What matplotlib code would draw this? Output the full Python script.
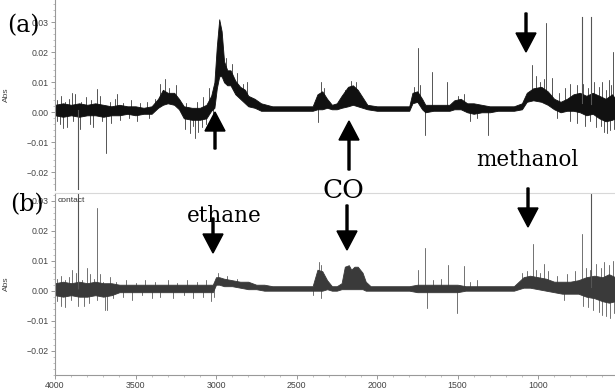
import matplotlib
matplotlib.use("Agg")
from matplotlib import pyplot as plt
from matplotlib.patches import FancyArrow
from matplotlib.transforms import IdentityTransform
from matplotlib.ticker import MultipleLocator
import numpy as np

# dense core of the noisy spectra: wavenumber, upper edge, lower edge (Abs x 1e-3)
wn_a = [4000, 3950, 3900, 3850, 3800, 3750, 3700, 3650, 3600, 3550, 3500, 3450, 3400,
        3360, 3330, 3300, 3260, 3230, 3200, 3150, 3100, 3060, 3030, 3010, 2995, 2980,
        2965, 2950, 2930, 2910, 2880, 2850, 2820, 2800, 2760, 2720, 2650, 2600, 2550,
        2500, 2450, 2400, 2370, 2340, 2310, 2280, 2250, 2220, 2180, 2150, 2120, 2090,
        2060, 2000, 1950, 1900, 1850, 1800, 1780, 1750, 1720, 1700, 1650, 1600, 1550,
        1520, 1480, 1440, 1400, 1350, 1300, 1250, 1200, 1150, 1100, 1070, 1030, 980,
        940, 900, 860, 820, 780, 740, 700, 660, 620, 580, 540, 520]
hi_a = [2.5, 3.0, 2.5, 3.0, 2.5, 3.0, 2.5, 2.0, 2.5, 2.0, 2.0, 1.5, 2.0,
        4.5, 7.5, 6.5, 6.5, 4.5, 2.0, 1.5, 1.5, 2.5, 5.5, 10.0, 22.0, 31.0,
        27.0, 17.0, 14.0, 14.0, 10.5, 8.5, 7.5, 5.5, 4.5, 3.0, 2.0, 2.0, 2.0,
        2.0, 2.0, 2.0, 6.0, 7.0, 4.5, 2.5, 3.0, 5.5, 8.5, 9.0, 7.5, 5.0,
        2.5, 2.0, 2.0, 2.0, 2.0, 2.0, 6.5, 7.0, 4.5, 2.5, 2.5, 2.5, 2.5,
        4.0, 4.5, 3.0, 3.0, 2.5, 2.0, 2.0, 2.0, 2.0, 3.0, 6.5, 8.0, 8.5,
        7.0, 4.5, 3.5, 4.5, 6.0, 6.5, 5.5, 6.5, 5.5, 4.5, 6.0, 4.5]
lo_a = [-1.0, -1.5, -1.0, -1.5, -1.0, -1.0, -1.5, -1.0, -1.0, -0.5, -1.0, -0.5, -0.5,
        1.5, 2.5, 3.0, 2.5, 1.0, -2.0, -2.5, -2.5, -2.0, 0.5, 1.5, 8.0, 12.0,
        12.0, 10.0, 9.0, 9.0, 6.0, 4.5, 3.0, 2.0, 1.5, 0.5, 0.5, 0.5, 0.5,
        0.5, 0.5, 0.5, 1.0, 1.0, 1.5, 1.0, 1.0, 1.5, 2.0, 2.5, 2.0, 1.5,
        1.0, 0.5, 0.5, 0.5, 0.5, 0.5, 3.0, 3.5, 1.0, 0.0, 0.5, 0.5, 0.5,
        1.0, 1.0, 0.0, -0.5, 0.0, 0.0, 0.5, 0.5, 0.5, 1.0, 3.5, 4.0, 3.5,
        2.5, 1.0, 0.0, 0.5, 0.5, 0.0, -1.0, -0.5, -2.0, -3.0, -2.5, -2.0]

wn_b = [4000, 3950, 3900, 3850, 3800, 3750, 3700, 3650, 3600, 3550, 3500, 3450, 3400,
        3350, 3300, 3250, 3200, 3150, 3100, 3050, 3020, 3000, 2980, 2950, 2900, 2850,
        2800, 2750, 2700, 2650, 2600, 2550, 2500, 2450, 2400, 2370, 2340, 2310, 2280,
        2250, 2220, 2200, 2175, 2160, 2140, 2120, 2090, 2070, 2040, 2000, 1950, 1900,
        1850, 1800, 1750, 1700, 1650, 1600, 1550, 1500, 1450, 1400, 1350, 1300, 1250,
        1200, 1150, 1120, 1090, 1050, 1000, 950, 900, 850, 800, 750, 700, 650, 600,
        560, 520]
hi_b = [2.5, 3.0, 2.5, 3.0, 2.5, 3.0, 2.5, 2.5, 2.0, 2.0, 2.0, 2.0, 2.0,
        2.0, 2.0, 2.0, 2.0, 2.0, 2.0, 2.0, 2.0, 4.5, 4.5, 4.0, 3.5, 3.0,
        3.0, 2.0, 2.0, 1.5, 1.5, 1.5, 1.5, 1.5, 1.5, 7.0, 6.5, 3.5, 1.5,
        1.5, 2.5, 8.0, 8.5, 7.0, 8.0, 8.0, 6.0, 3.0, 1.5, 1.5, 1.5, 1.5,
        1.5, 1.5, 2.0, 2.0, 2.0, 2.0, 2.0, 2.0, 1.5, 1.5, 1.5, 1.5, 1.5,
        1.5, 1.5, 3.0, 4.5, 5.0, 4.5, 4.0, 3.0, 3.0, 3.0, 3.5, 4.5, 5.0, 4.5,
        5.5, 4.5]
lo_b = [-1.5, -2.0, -1.5, -2.0, -2.0, -1.5, -2.0, -1.5, -0.5, -0.5, -0.5, -0.5, -0.5,
        -0.5, -0.5, -0.5, -0.5, -0.5, -0.5, -0.5, -0.5, 2.0, 2.0, 1.5, 1.5, 1.0,
        0.5, 0.5, 0.0, 0.0, 0.0, 0.0, 0.0, 0.0, 0.0, 0.0, 0.0, 0.5, 0.0,
        0.0, 0.5, 0.5, 0.5, 0.5, 0.5, 0.5, 0.5, 0.0, 0.0, 0.0, 0.0, 0.0,
        0.0, 0.0, -0.5, -0.5, -0.5, -0.5, -0.5, -0.5, 0.0, 0.0, 0.0, 0.0, 0.0,
        0.0, 0.0, 0.5, 1.0, 1.0, 0.5, 0.0, -0.5, -1.0, -1.0, -1.0, -2.0, -2.5, -3.5,
        -4.0, -3.5]

# narrow spikes and noise excursions: wavenumber, tip (Abs x 1e-3)
spk_a_wn = [3857, 3741, 3685, 3897, 3617, 3317, 3948, 3762, 3131, 2366, 1748, 1702,
            1661, 1568, 1309, 1036, 953, 916, 729, 671, 533,
            3985, 3960, 3935, 3915, 3875, 3840, 3810, 3775, 3720, 3660, 3630, 3580,
            3530, 3470, 3430, 3380, 3345, 3290, 3250, 3185, 3120, 3080, 3045,
            3990, 3970, 3925, 3890, 3845, 3785, 3710, 3650, 3595, 3540, 3490, 3415,
            3190, 3160, 3140, 3110, 3090, 3060, 3020, 2940, 2900, 2870, 2830, 2805,
            2350, 2330, 2200, 2160, 2130, 1770, 1735, 1500, 1460, 1420, 1380,
            1010, 990, 960, 870, 830, 800, 760, 720, 690, 650, 620, 600, 575, 560, 545,
            880, 800, 760, 710, 680, 640, 610, 590, 570, 550, 530]
spk_a_v = [-40, 7.7, -13.5, 6.4, 6.1, 11.1, -5.3, -4.9, -8.4, -3.2, 21.3, -7.6,
           13.6, 10.2, -7.6, 15.8, 29.8, 11.3, 31.8, 31.8, 20.0,
           4.0, 5.5, 3.5, 4.5, 6.0, 3.5, 5.0, 4.0, 5.5, 3.5, 4.5, 3.0,
           4.0, 3.0, 3.5, 4.5, 9.5, 8.0, 9.0, 3.0, 3.5, 5.0, 8.0,
           -3.0, -4.0, -5.0, -3.0, -5.5, -4.0, -3.0, -3.5, -2.5, -2.0, -3.0, -2.0,
           -5.5, -7.0, -4.5, -6.5, -5.0, -4.0, -2.5, 18.0, 16.0, 13.0, 9.5, 10.0,
           10.0, 8.0, 7.5, 10.5, 10.0, 8.5, 9.0, 5.5, 6.0, -3.0, -2.0,
           12.0, 10.0, 11.0, 6.5, 8.0, 9.5, 9.0, 9.5, 8.0, 10.0, 8.5, 10.0, 7.5, 10.8, 9.0,
           -2.0, -3.0, -3.5, -4.5, -3.0, -5.0, -4.5, -6.5, -7.0, -6.0, -5.5]
spk_b_wn = [3857, 3741, 3896, 3801, 3938, 3818, 3677, 1748, 1702, 1690, 1557, 1505,
            1460, 1034, 961, 729, 671,
            3990, 3965, 3940, 3915, 3870, 3830, 3780, 3760, 3720, 3700, 3660, 3620,
            3560, 3500, 3440, 3380, 3300, 3240, 3180, 3120, 3060, 2990, 2930, 2870,
            2360, 2345, 1650, 1600, 1420, 1380, 1100, 1070, 1010, 990, 940, 880, 820,
            770, 700, 680, 640, 610, 590, 560, 535,
            3985, 3960, 3900, 3860, 3790, 3740, 3690, 3640, 3580, 3520, 3460, 3400,
            3350, 3270, 3200, 3140, 3080, 3030, 3010, 2400, 2350, 840, 720, 690, 660,
            620, 600, 575, 550, 530]
spk_b_v = [40, 27.5, 6.9, 7.6, -5.3, -5.0, -6.4, 6.9, 14.1, -5.9, 8.5, -7.5,
           8.3, 15.4, 8.8, 19.0, 40,
           4.0, 5.0, 3.5, 4.5, 6.0, 3.5, 5.5, 4.0, 5.5, 3.0, 4.5, 3.0,
           3.5, 2.5, 3.5, 3.0, 3.5, 2.5, 3.5, 3.0, 3.5, 5.8, 5.0, 4.0,
           9.5, 8.5, 3.5, 4.0, 3.0, 3.5, 6.0, 6.5, 7.0, 6.0, 6.5, 5.0, 5.5,
           6.5, 7.5, 7.0, 9.0, 7.5, 9.5, 8.5, 10.0,
           -3.5, -5.0, -3.0, -5.0, -4.0, -3.0, -6.4, -2.5, -2.0, -3.0, -1.5, -2.5,
           -2.0, -2.5, -1.5, -2.5, -2.0, -3.5, -2.0, -1.5, -2.5, -3.0, -5.0, -5.5, -6.5,
           -7.0, -8.0, -8.5, -9.0, -7.5]

W, H = 615, 390
fig = plt.figure(figsize=(6.15, 3.9), dpi=100)
ax_a = fig.add_axes([55 / W, 1 - 190 / H, 560 / W, 190 / H])
ax_b = fig.add_axes([55 / W, 1 - 375 / H, 560 / W, 182 / H])

tick_font = dict(family="Liberation Sans", size=6.3, color="#444444")


def style(ax, ylim, bottom):
    ax.set_xlim(4000, 522)
    ax.set_ylim(*ylim)
    for s in ["top", "right"]:
        ax.spines[s].set_visible(False)
    ax.spines["left"].set_color("#999999")
    ax.spines["bottom"].set_color("#999999")
    ax.spines["bottom"].set_visible(bottom)
    ax.yaxis.set_minor_locator(MultipleLocator(0.002))
    ax.xaxis.set_minor_locator(MultipleLocator(100))
    ax.tick_params(axis="both", which="major", length=3, width=0.6, color="#888888", pad=1.5)
    ax.tick_params(axis="both", which="minor", length=1.5, width=0.5, color="#aaaaaa")
    if not bottom:
        ax.tick_params(axis="x", which="both", bottom=False, labelbottom=False)
    ax.set_yticks([0.03, 0.02, 0.01, 0.0, -0.01, -0.02])
    ax.set_yticklabels(["0.03", "0.02", "0.01", "0.00", "\u22120.01", "\u22120.02"], **tick_font)
    ax.set_ylabel("Abs", fontsize=6, family="Liberation Sans", color="#444444", labelpad=12)


style(ax_a, ((112.3 - 190) / 3000, 112.3 / 3000), False)
style(ax_b, ((290.7 - 375) / 3000, (290.7 - 193) / 3000), True)
ax_b.set_xticks([4000, 3500, 3000, 2500, 2000, 1500, 1000])
ax_b.set_xticklabels(["4000", "3500", "3000", "2500", "2000", "1500", "1000"], **tick_font)
ax_b.set_xlabel("Wavenumbers (cm\u22121)", fontsize=6, family="Liberation Sans",
                color="#444444", labelpad=1)
ax_b.spines["top"].set_visible(True)
ax_b.spines["top"].set_color("#d8d8d8")
ax_b.text(0.005, 0.96, "contact", transform=ax_b.transAxes, fontsize=6,
          family="Liberation Sans", color="#333333", va="center")

for ax, wn, hi, lo, swn, sv, col in [
        (ax_a, wn_a, hi_a, lo_a, spk_a_wn, spk_a_v, "#111111"),
        (ax_b, wn_b, hi_b, lo_b, spk_b_wn, spk_b_v, "#3a3a3a")]:
    hi = np.array(hi) / 1000
    lo = np.array(lo) / 1000
    ax.fill_between(wn, lo, hi, color=col, lw=0.6, edgecolor=col)
    base = (hi + lo) / 2
    for w, v in zip(swn, sv):
        b = np.interp(w, wn[::-1], base[::-1])
        big = abs(v) >= 30
        ax.plot([w, w], [b, v / 1000], color="#555555" if big else col,
                lw=0.8 if big else 0.5)

serif = "DejaVu Serif"
fig.text(23 / W, 1 - 26 / H, "(a)", family=serif, fontsize=17, ha="center", va="center")
fig.text(27 / W, 1 - 205 / H, "(b)", family=serif, fontsize=17, ha="center", va="center")
fig.text(224 / W, 1 - 222 / H, "ethane", family=serif, fontsize=15.5, ha="center", va="baseline")
fig.text(343 / W, 1 - 198 / H, "CO", family=serif, fontsize=19, ha="center", va="baseline")
fig.text(527 / W, 1 - 166 / H, "methanol", family=serif, fontsize=15.5, ha="center", va="baseline")

# arrows: x, tail y, tip y (pixels from top)
arrows = [(215, 149, 112), (349, 170, 121), (526, 13, 52),
          (213, 218, 253), (347, 205, 250), (528, 188, 227)]
for x, y0, y1 in arrows:
    fig.patches.append(FancyArrow(x, H - y0, 0, -(y1 - y0), width=2, head_width=20,
                                  head_length=19, length_includes_head=True,
                                  color="black", transform=IdentityTransform(),
                                  figure=fig))

fig.savefig("out.png", dpi=100)
